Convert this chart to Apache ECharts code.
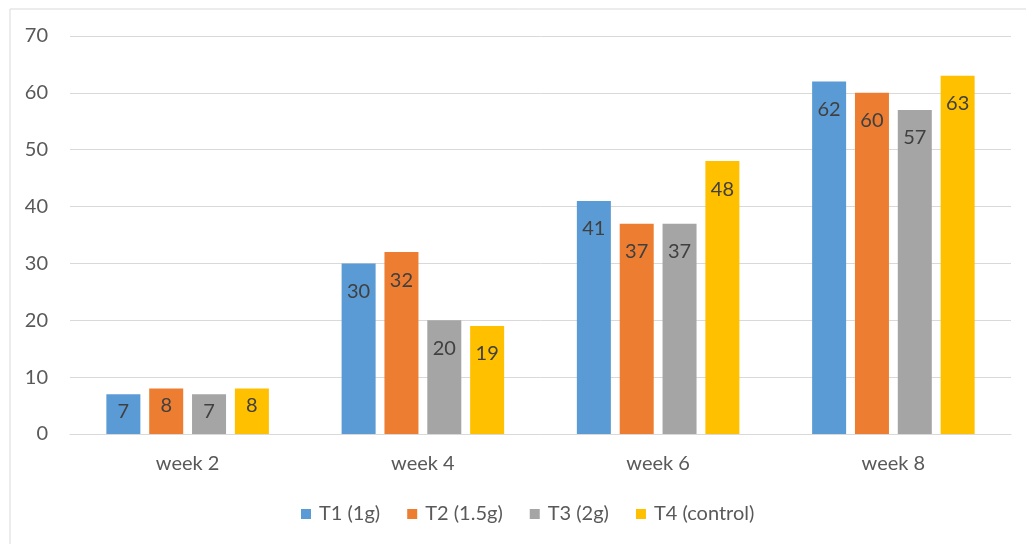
<!DOCTYPE html>
<html>
<head>
<meta charset="utf-8">
<script src="https://cdn.jsdelivr.net/npm/echarts@6/dist/echarts.min.js"></script>
<style>
  html, body { margin: 0; padding: 0; background: #fff; }
  #chart { width: 1026px; height: 544px; }
</style>
</head>
<body>
<div id="chart"></div>
<script>
const categories = ['week 2', 'week 4', 'week 6', 'week 8'];
const seriesNames = ['T1 (1g)', 'T2 (1.5g)', 'T3 (2g)', 'T4 (control)'];
const t1 = [7, 30, 41, 62];
const t2 = [8, 32, 37, 60];
const t3 = [7, 20, 37, 57];
const t4 = [8, 19, 48, 63];
const colors = ['#5B9BD5', '#ED7D31', '#A5A5A5', '#FFC000'];

const FONT = 'Lato, "Open Sans", sans-serif';
const FS = 20;

function makeSeries(name, values, color) {
  return {
    name: name,
    type: 'bar',
    barWidth: 34,
    barGap: '26%',
    itemStyle: { color: color },
    data: values.map(v => ({
      value: v,
      label: v < 10 ? { distance: 7 } : undefined
    })),
    label: {
      show: true,
      position: 'insideTop',
      distance: 18,
      color: '#404040',
      fontSize: FS,
      fontFamily: FONT
    }
  };
}

const chart = echarts.init(document.getElementById('chart'));
chart.setOption({
  animation: false,
  color: colors,
  graphic: [{
    type: 'rect',
    shape: { x: 10, y: 9, width: 1100, height: 700 },
    style: { fill: 'none', stroke: '#d9d9d9', lineWidth: 1 },
    silent: true
  }],
  grid: { left: 70, right: 15, top: 36, bottom: 110 },
  xAxis: {
    type: 'category',
    data: categories,
    axisLine: { lineStyle: { color: '#d9d9d9', width: 1 } },
    axisTick: { show: false },
    axisLabel: { color: '#595959', fontSize: FS, fontFamily: FONT, margin: 20 }
  },
  yAxis: {
    type: 'value',
    min: 0,
    max: 70,
    interval: 10,
    axisLine: { show: false },
    axisTick: { show: false },
    splitLine: { lineStyle: { color: '#d9d9d9', width: 1 } },
    axisLabel: { color: '#595959', fontSize: FS, fontFamily: FONT, margin: 22 }
  },
  legend: {
    bottom: 15,
    left: 296,
    itemWidth: 10,
    itemHeight: 10,
    itemGap: 27,
    icon: 'rect',
    textStyle: { color: '#595959', fontSize: FS, fontFamily: FONT, padding: [0, 0, 0, 3] },
    data: seriesNames
  },
  series: [
    makeSeries(seriesNames[0], t1, colors[0]),
    makeSeries(seriesNames[1], t2, colors[1]),
    makeSeries(seriesNames[2], t3, colors[2]),
    makeSeries(seriesNames[3], t4, colors[3])
  ]
});
</script>
</body>
</html>
